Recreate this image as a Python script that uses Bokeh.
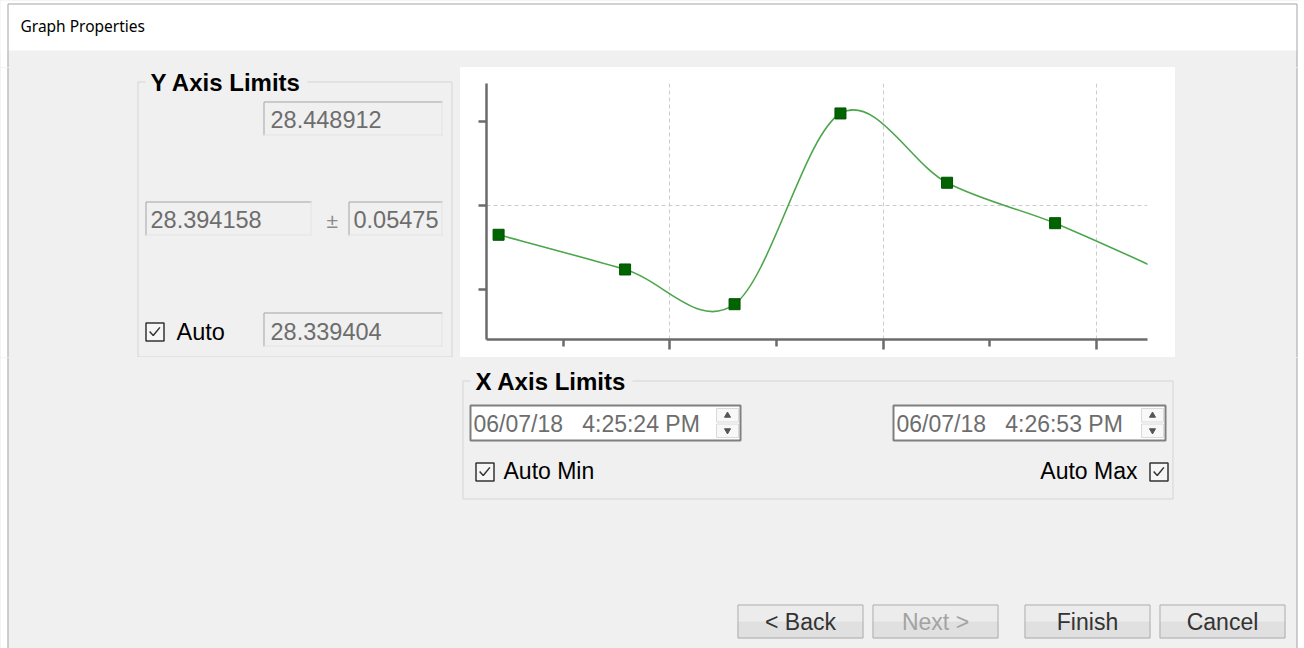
import numpy as np
from bokeh.plotting import figure
from bokeh.layouts import column, row
from bokeh.models import Range1d, FixedTicker, CustomJSTickFormatter
from bokeh.core.properties import value
from bokeh.embed import file_html
from bokeh.resources import INLINE

# ------------------------------------------------------------------ data
times = ["2018-06-07T16:25:20.9", "2018-06-07T16:25:38.7", "2018-06-07T16:25:54.1",
         "2018-06-07T16:26:09.0", "2018-06-07T16:26:24.0", "2018-06-07T16:26:39.2",
         "2018-06-07T16:26:54.2"]
values = [28.38285, 28.36845, 28.35405, 28.43318, 28.40443, 28.38766, 28.36804]

x_limits = ["2018-06-07T16:25:19.2", "2018-06-07T16:26:52.2"]
y_limits = [28.339404, 28.4456]
x_major_ticks = ["2018-06-07T16:25:45", "2018-06-07T16:26:15", "2018-06-07T16:26:45"]
x_minor_ticks = ["2018-06-07T16:25:30", "2018-06-07T16:26:00", "2018-06-07T16:26:30"]
y_ticks = [28.36, 28.395, 28.43]
y_grid = [28.395]

dialog_title = "Graph Properties"
y_group_title = "Y Axis Limits"
y_max_text = "28.448912"
y_center_text = "28.394158"
y_pm_sign = "\u00b1"
y_pm_text = "0.05475"
y_min_text = "28.339404"
y_auto_text = "Auto"
x_group_title = "X Axis Limits"
x_min_text = "06/07/18\u00a0\u00a0\u00a04:25:24 PM"
x_max_text = "06/07/18\u00a0\u00a0\u00a04:26:53 PM"
x_auto_min_text = "Auto Min"
x_auto_max_text = "Auto Max"
button_labels = ["< Back", "Next >", "Finish", "Cancel"]
button_enabled = [True, False, True, True]

# ------------------------------------------------------------------ style
BG = "#f0f0f0"
AX = "#6b6b6b"
FONT = "Liberation Sans"
TXT_GRAY = "#6d6d6d"
BORDER = "#a5a5a5"
W_RIGHT = 1298
H_BOTTOM = 648
BASELINE_FIX = 0.35   # renderer draws 'alphabetic' text a little low


def ms(a):
    return np.array(a, dtype="datetime64[ms]").astype("int64").astype(float)


def bg_fig(x0, x1, y0, y1):
    f = figure(width=x1 - x0, height=y1 - y0, x_range=Range1d(x0, x1), y_range=Range1d(y1, y0),
               toolbar_location=None, output_backend="svg", min_border=0,
               x_axis_type=None, y_axis_type=None, background_fill_color=BG,
               border_fill_color=BG, outline_line_color=None,
               styles={"background-color": BG})
    f.grid.visible = False
    return f


def txt(f, x, y, s, size, color="#000000", bold=False, align="left", font=FONT):
    f.text(x=[x], y=[y - BASELINE_FIX * size], text=[s], text_font=value(font),
           text_font_size=value(f"{size}px"), text_color=color, text_align=align,
           text_baseline="alphabetic", text_font_style="bold" if bold else "normal")


def seg(f, xs0, ys0, xs1, ys1, color, width=1.0):
    f.segment(x0=xs0, y0=ys0, x1=xs1, y1=ys1, line_color=color, line_width=width)


def group_box(f, l, r, t, b, title, title_w, size):
    f.quad(left=[l + 0.5], right=[r + 0.5], top=[t + 0.5], bottom=[b + 0.5],
           fill_color=None, line_color="#d5d5d5", line_width=1)
    f.quad(left=[l + 8], right=[l + 8 + title_w], top=[t - 11], bottom=[t + 11],
           fill_color=BG, line_color=None)
    txt(f, l + 13, t + 9.5, title, size, bold=True)


def disabled_box(f, l, r, t, b):
    f.quad(left=[l], right=[r], top=[t], bottom=[b], fill_color=BG, line_color=None)
    seg(f, [l + 0.5, l + 0.5], [t + 0.5, t + 0.5], [r, l + 0.5], [t + 0.5, b], "#a3a3a3")
    seg(f, [r - 0.5, l], [t, b - 0.5], [r - 0.5, r], [b, b - 0.5], "#e3e3e3")


def check_box(f, l, t, s=18):
    f.quad(left=[l + 0.5], right=[l + s + 0.5], top=[t + 0.5], bottom=[t + s + 0.5],
           fill_color="#f6f6f6", line_color="#333333", line_width=1.5)
    f.line(x=[l + 0.23 * s, l + 0.43 * s, l + 0.8 * s], y=[t + 0.5 * s, t + 0.72 * s, t + 0.27 * s],
           line_color="#333333", line_width=1.5)


def date_box(f, l, r, t, b, s):
    f.quad(left=[l + 1], right=[r - 1], top=[t + 1], bottom=[b - 1], fill_color="white",
           line_color="#7f7f7f", line_width=2)
    m = (t + b) / 2
    f.quad(left=[r - 25, r - 25], right=[r - 3, r - 3], top=[t + 4, m + 1], bottom=[m - 1, b - 4],
           fill_color="#f8f8f8", line_color="#dadada", line_width=1)
    f.scatter(x=[r - 14, r - 14], y=[t + 11, b - 11], marker=["triangle", "inverted_triangle"],
              size=6, color="#555555")
    txt(f, l + 4, b - 9.5, s, 23, color=TXT_GRAY)


def button(f, l, r, t, b, label, enabled):
    m = (t + b) / 2
    f.quad(left=[l, l], right=[r, r], top=[t, m], bottom=[m, b],
           fill_color=["#ececec", "#e0e0e0"], line_color=None)
    f.quad(left=[l + 0.5], right=[r - 0.5], top=[t + 0.5], bottom=[b - 0.5],
           fill_color=None, line_color="#adadad", line_width=1)
    txt(f, (l + r) / 2, b - 8, label, 23, color="#333333" if enabled else "#a3a3a3", align="center")


def left_border(f, y0, y1):
    seg(f, [7.5], [y0], [7.5], [y1], BORDER)


def right_border(f, y0, y1):
    seg(f, [1296.5], [y0], [1296.5], [y1], BORDER)


# ------------------------------------------------------------------ title strip
top = bg_fig(0, W_RIGHT, 0, 67)
top.quad(left=[0], right=[W_RIGHT], top=[0], bottom=[50], fill_color="white", line_color=None)
top.quad(left=[0, 1297], right=[7, W_RIGHT], top=[0, 0], bottom=[67, 67],
         fill_color="white", line_color=None)
seg(top, [7.5], [3.5], [1296.5], [3.5], BORDER)
left_border(top, 3.5, 67)
right_border(top, 3.5, 67)
txt(top, 20, 31, dialog_title, 15.5, font="Noto Sans")

# ------------------------------------------------------------------ Y limits panel
left = bg_fig(0, 460, 67, 357)
left.quad(left=[0], right=[7], top=[67], bottom=[357], fill_color="white", line_color=None)
left_border(left, 67, 357)
group_box(left, 137, 451, 81, 356, y_group_title, 162, 24)
disabled_box(left, 263, 442, 101, 135)
txt(left, 270, 127.5, y_max_text, 23.5, color=TXT_GRAY)
disabled_box(left, 145, 311, 201, 235)
txt(left, 150, 227, y_center_text, 23.5, color=TXT_GRAY)
txt(left, 326, 227, y_pm_sign, 21, color="#8c8c8c")
disabled_box(left, 348, 442, 201, 235)
txt(left, 353, 227, y_pm_text, 23.5, color=TXT_GRAY)
disabled_box(left, 263, 442, 312, 346)
txt(left, 270, 339, y_min_text, 23.5, color=TXT_GRAY)
check_box(left, 145, 322)
txt(left, 176, 340, y_auto_text, 23.5)

# ------------------------------------------------------------------ chart
X = ms(times)
Y = np.array(values, dtype=float)
xr = ms(x_limits)
chart = figure(width=715, height=290, x_axis_type="datetime",
               x_range=Range1d(float(xr[0]), float(xr[1])), y_range=Range1d(*y_limits),
               toolbar_location=None, output_backend="svg",
               min_border_left=26, min_border_right=28, min_border_top=16, min_border_bottom=18,
               background_fill_color="white", border_fill_color="white", outline_line_color=None,
               styles={"background-color": "white"})

for ax in (chart.xaxis[0], chart.yaxis[0]):
    ax.axis_line_color = AX
    ax.axis_line_width = 2.5
    ax.major_tick_line_color = AX
    ax.major_tick_line_width = 2.5
    ax.minor_tick_line_color = AX
    ax.minor_tick_line_width = 2.5
    ax.major_tick_in = 0
    ax.minor_tick_in = 0
    ax.major_label_standoff = 0
    ax.major_label_text_font_size = "0px"
    ax.formatter = CustomJSTickFormatter(code="return ''")

chart.xaxis[0].ticker = FixedTicker(ticks=list(ms(x_major_ticks)), minor_ticks=list(ms(x_minor_ticks)))
chart.xaxis[0].major_tick_out = 10
chart.xaxis[0].minor_tick_out = 7
chart.yaxis[0].ticker = FixedTicker(ticks=y_ticks, minor_ticks=[])
chart.yaxis[0].major_tick_out = 8

chart.xgrid.ticker = FixedTicker(ticks=list(ms(x_major_ticks)))
chart.ygrid.ticker = FixedTicker(ticks=y_grid)
for g in (chart.xgrid[0], chart.ygrid[0]):
    g.grid_line_color = "#cccccc"
    g.grid_line_dash = "4 3"
    g.grid_line_width = 1

# smooth (cardinal / Catmull-Rom) curve through the samples
Xp = np.concatenate([[X[0]], X, [X[-1]]])
Yp = np.concatenate([[Y[0]], Y, [Y[-1]]])
chart.bezier(x0=X[:-1], y0=Y[:-1], x1=X[1:], y1=Y[1:],
             cx0=X[:-1] + (X[1:] - Xp[:-3]) / 6, cy0=Y[:-1] + (Y[1:] - Yp[:-3]) / 6,
             cx1=X[1:] - (Xp[3:] - X[:-1]) / 6, cy1=Y[1:] - (Yp[3:] - Y[:-1]) / 6,
             line_color="#4ca64c", line_width=1.6)
chart.scatter(X, Y, marker="square", size=11, fill_color="#006400", line_color="#005200")

# ------------------------------------------------------------------ right filler
right = bg_fig(1175, W_RIGHT, 67, 357)
right.quad(left=[1297], right=[W_RIGHT], top=[67], bottom=[357], fill_color="white", line_color=None)
right_border(right, 67, 357)

# ------------------------------------------------------------------ X limits + buttons
bottom = bg_fig(0, W_RIGHT, 357, H_BOTTOM)
bottom.quad(left=[0, 1297], right=[7, W_RIGHT], top=[357, 357], bottom=[H_BOTTOM, H_BOTTOM],
            fill_color="white", line_color=None)
left_border(bottom, 357, H_BOTTOM)
right_border(bottom, 357, H_BOTTOM)
group_box(bottom, 462, 1172, 380, 498, x_group_title, 162, 24)
date_box(bottom, 469, 741, 404, 441, x_min_text)
date_box(bottom, 892, 1166, 404, 441, x_max_text)
check_box(bottom, 475, 462)
txt(bottom, 503, 479, x_auto_min_text, 23)
txt(bottom, 1137, 479, x_auto_max_text, 23, align="right")
check_box(bottom, 1149, 462)

btn_left = [737, 872, 1024, 1159]
for i, lab in enumerate(button_labels):
    button(bottom, btn_left[i], btn_left[i] + 126, 604, 638, lab, button_enabled[i])

# the chart is wrapped in its own column so that its frame is not aligned with the side panels
middle = column(chart, styles={"background-color": "white"})
layout = column(top, row(left, middle, right), bottom, styles={"background-color": BG})
open("out.html", "w").write(file_html(layout, INLINE))
